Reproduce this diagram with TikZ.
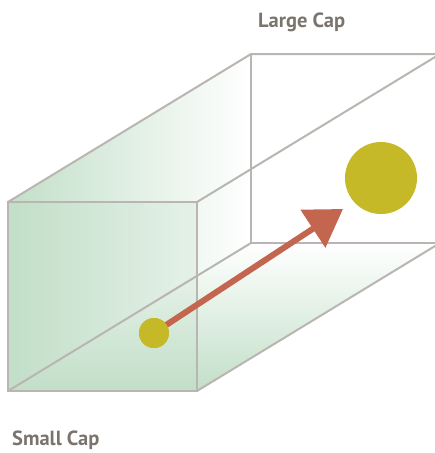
\documentclass[tikz,border=0pt]{standalone}
\usepackage{fontspec}
\setmainfont{PT Sans}
\usetikzlibrary{arrows.meta}
\definecolor{wallgreen}{HTML}{C2DFC8}
\definecolor{edgegray}{HTML}{B9B5B1}
\definecolor{olive}{HTML}{C5B928}
\definecolor{arrowred}{HTML}{C4664F}
\definecolor{labelgray}{HTML}{7A746C}
\tikzset{
  edge/.style={draw=edgegray, line width=2pt, line join=miter},
  ball/.style={circle, fill=olive, inner sep=0pt, draw=none},
  caplabel/.style={anchor=base west, text=labelgray, font=\bfseries\fontsize{20.5}{24}\selectfont, inner sep=0pt},
  move/.style={draw=arrowred, line width=6pt, -{Triangle[length=36pt,width=44pt]}}
}
\begin{document}
\begin{tikzpicture}[x=1pt,y=-1pt]
\useasboundingbox (0,0) rectangle (435,453);
\clip (0,0) rectangle (435,453);
% corners
\coordinate (ftl) at (8,202);
\coordinate (ftr) at (197,202);
\coordinate (fbl) at (8,391);
\coordinate (fbr) at (197,391);
\coordinate (btl) at (251,54);
\coordinate (btr) at (440,54);
\coordinate (bbl) at (251,243);
\coordinate (bbr) at (440,243);
% fills
\shade[left color=wallgreen, right color=white] (ftl) -- (btl) -- (bbl) -- (fbl) -- cycle;
\shade[bottom color=wallgreen, top color=white] (fbl) -- (bbl) -- (bbr) -- (fbr) -- cycle;
\fill[wallgreen, opacity=0.25] (ftl) rectangle (fbr);
% edges
\draw[edge] (ftl) -- (ftr) -- (fbr) -- (fbl) -- cycle;
\draw[edge] (ftl) -- (btl) -- (btr);
\draw[edge] (ftr) -- (btr);
\draw[edge] (btl) -- (bbl) -- (bbr);
\draw[edge] (fbr) -- (bbr);
\draw[edge] (fbl) -- (bbl);
% balls and arrow
\node[ball, minimum size=30pt] (small) at (154,333) {};
\node[ball, minimum size=72pt] (large) at (381,178) {};
\coordinate (tip) at (343,209);
\draw[move] (small.center) -- (tip);
\node[ball, minimum size=30pt] at (small) {};
% labels
\node[caplabel] (lcap) at (258,27) {Large Cap};
\node[caplabel] (scap) at (12,445) {Small Cap};
\end{tikzpicture}
\end{document}
